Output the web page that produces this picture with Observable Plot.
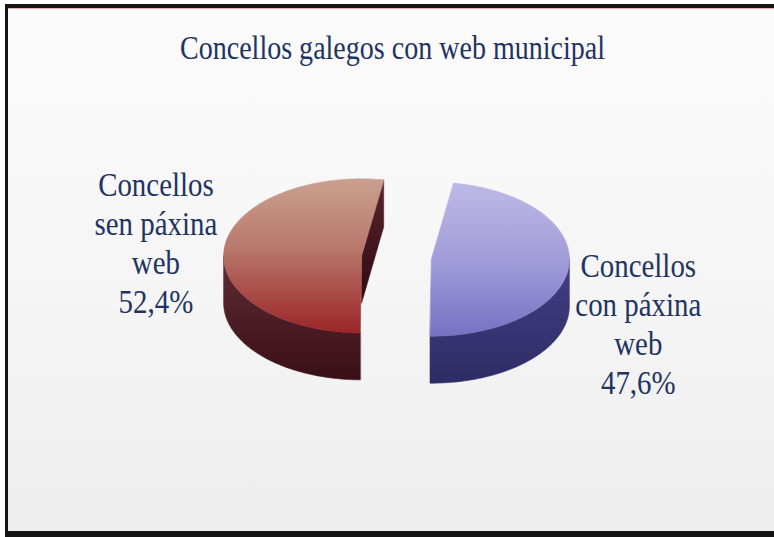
<!DOCTYPE html>
<html>
<head>
<meta charset="utf-8">
<script src="https://cdn.jsdelivr.net/npm/d3@7"></script>
<script src="https://cdn.jsdelivr.net/npm/@observablehq/plot@0.6"></script>
<style>
  html, body { margin: 0; padding: 0; background: #fff; }
  #wrap { position: relative; width: 774px; height: 537px; overflow: hidden; background: #fff; }
  #frame { position: absolute; left: 5px; top: 4px; right: -4px; bottom: 0; box-sizing: border-box;
    border-top: 4px solid #141414; border-left: 3px solid #141414; border-bottom: 6px solid #141414;
    background: linear-gradient(#fbfbfb, #f5f5f5 55%, #ededed);
    box-shadow: inset 0 1px 0 #e9b3a3; }
  #chart { position: absolute; left: 0; top: 0; }
</style>
</head>
<body>
<div id="wrap"><div id="frame"></div><div id="chart"></div></div>
<script>
// ---- data ----
const title = "Concellos galegos con web municipal";
const categories = ["Concellos con páxina web", "Concellos sen páxina web"];
const labelLines = ["Concellos\ncon páxina\nweb", "Concellos\nsen páxina\nweb"];
const shares = [47.6, 52.4];

// ---- layout / style ----
const W = 774, H = 537;
const S = 138;            // px per unit radius
const CX = 396, CY = 257; // pie centre in px
const TILT = 0.558, DEPTH = 47 / S, EXPLODE = 35 / S;
const START = 9.2 * Math.PI / 180;
const ids = ["blue", "red"];
const labelOffset = [[1.50, 0.46], [-1.49, -0.10]]; // label block centre relative to slice centre (units)
const textColor = "#1f3463";

const arcs = d3.pie().sort(null).value(d => d).startAngle(START).endAngle(START + 2 * Math.PI)(shares);
const STEP = Math.PI / 180;

function geometry(arc, i) {
  const a = arc.startAngle, b = arc.endAngle, mid = (a + b) / 2;
  const c = { x: EXPLODE * Math.sin(mid), y: -TILT * EXPLODE * Math.cos(mid) };
  const pt = (t, dz = 0) => ({ x: c.x + Math.sin(t), y: c.y - TILT * Math.cos(t) + dz });
  const arcPts = (t0, t1, dz = 0) => {
    const n = Math.max(2, Math.ceil((t1 - t0) / STEP));
    return d3.range(n + 1).map(k => pt(t0 + (t1 - t0) * k / n, dz));
  };
  const top = [{ x: c.x, y: c.y }, ...arcPts(a, b)];
  const walls = [];
  for (let k = 0; k < 2; k++) {
    const lo = Math.max(a, Math.PI / 2 + 2 * Math.PI * k), hi = Math.min(b, 1.5 * Math.PI + 2 * Math.PI * k);
    if (hi > lo) walls.push([...arcPts(lo, hi), ...arcPts(lo, hi, DEPTH).reverse()]);
  }
  const cuts = [];
  const cen = { x: c.x, y: c.y }, cenB = { x: c.x, y: c.y + DEPTH };
  if (Math.cos(b + Math.PI / 2) < -0.02) cuts.push([cen, pt(b), pt(b, DEPTH), cenB]);
  if (Math.cos(a - Math.PI / 2) < -0.02) cuts.push([cen, pt(a), pt(a, DEPTH), cenB]);
  return { c, top, walls, cuts, i };
}
const geo = arcs.map(geometry);

const marks = [];
geo.forEach(g => {
  const id = ids[g.i];
  g.cuts.forEach(p => marks.push(Plot.line(p, { x: "x", y: "y", curve: "linear-closed", fill: `url(#${id}Cut)`, stroke: `url(#${id}Cut)`, strokeWidth: 0.6 })));
  g.walls.forEach(p => marks.push(Plot.line(p, { x: "x", y: "y", curve: "linear-closed", fill: `url(#${id}Side)`, stroke: `url(#${id}Side)`, strokeWidth: 0.6 })));
  marks.push(Plot.line(g.top, { x: "x", y: "y", curve: "linear-closed", fill: `url(#${id}Top)`, stroke: `url(#${id}Top)`, strokeWidth: 0.6 }));
});

marks.push(Plot.text([title], { frameAnchor: "top", dx: 6, dy: 48, text: d => d, lineAnchor: "middle",
  fontFamily: "Liberation Serif", fontSize: 33, fill: textColor }));

geo.forEach(g => {
  const lbl = labelLines[g.i] + "\n" + shares[g.i].toFixed(1).replace(".", ",") + "%";
  marks.push(Plot.text([{ x: g.c.x + labelOffset[g.i][0], y: g.c.y + labelOffset[g.i][1], t: lbl }], {
    x: "x", y: "y", text: "t", textAnchor: "middle", lineAnchor: "middle", lineHeight: 1.15,
    fontFamily: "Liberation Serif", fontSize: 34, fill: textColor }));
});

const svg = Plot.plot({
  width: W, height: H, margin: 0,
  style: { background: "transparent", overflow: "visible" },
  x: { domain: [-CX / S, (W - CX) / S], axis: null },
  y: { domain: [(H - CY) / S, -CY / S], axis: null },
  marks
});

const ns = "http://www.w3.org/2000/svg";
const defs = document.createElementNS(ns, "defs");
const grads = {
  redTop: [["0", "#caa090"], ["0.45", "#b8786c"], ["1", "#9c2428"]],
  redSide: [["0", "#5f2c36"], ["1", "#3a0f16"]],
  redCut: [["0", "#5a2430"], ["1", "#2e0a10"]],
  blueTop: [["0", "#bdb9e6"], ["0.5", "#a19cd9"], ["1", "#7771c3"]],
  blueSide: [["0", "#423f84"], ["1", "#2e2c66"]],
  blueCut: [["0", "#423f84"], ["1", "#2e2c66"]]
};
for (const [id, stops] of Object.entries(grads)) {
  const lg = document.createElementNS(ns, "linearGradient");
  lg.setAttribute("id", id); lg.setAttribute("x1", "0"); lg.setAttribute("y1", "0");
  lg.setAttribute("x2", "0"); lg.setAttribute("y2", "1");
  stops.forEach(([o, col]) => {
    const s = document.createElementNS(ns, "stop");
    s.setAttribute("offset", o); s.setAttribute("stop-color", col); lg.appendChild(s);
  });
  defs.appendChild(lg);
}
svg.insertBefore(defs, svg.firstChild);
document.getElementById("chart").appendChild(svg);

// horizontally condensed serif text, as in the reference
svg.querySelectorAll('g[aria-label="text"]').forEach(g => {
  const w = document.createElementNS(ns, "g");
  g.parentNode.insertBefore(w, g); w.appendChild(g);
  const bb = g.getBBox(), cx = bb.x + bb.width / 2;
  w.setAttribute("transform", `translate(${cx},0) scale(0.85,1) translate(${-cx},0)`);
});
</script>
</body>
</html>
